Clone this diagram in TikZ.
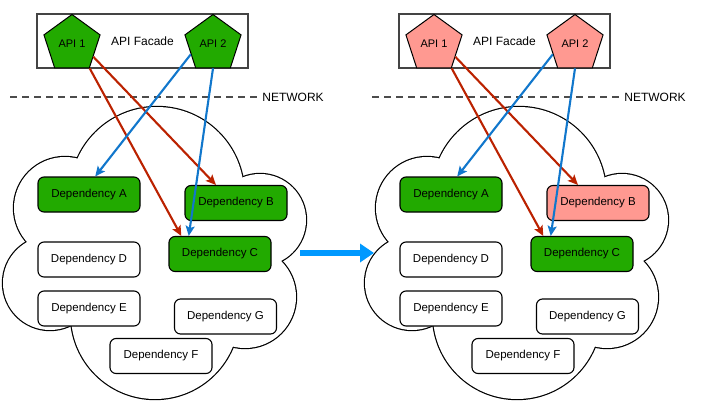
\documentclass[tikz,border=0pt]{standalone}
\usepackage{fontspec}
\setmainfont{Liberation Sans}
\usetikzlibrary{shapes.geometric,arrows.meta}

\definecolor{okgreen}{RGB}{34,170,0}
\definecolor{downpink}{RGB}{255,153,145}
\definecolor{callred}{RGB}{187,34,0}
\definecolor{callblue}{RGB}{17,119,204}
\definecolor{bigblue}{RGB}{0,153,255}
\definecolor{boxgray}{RGB}{68,68,68}

\tikzset{
  api/.style={regular polygon,regular polygon sides=5,minimum size=59pt,inner sep=1pt,
    draw,line width=1pt,font=\fontsize{11}{13}\selectfont},
  facade/.style={draw=boxgray,line width=1.3pt,minimum width=211pt,minimum height=54pt,
    font=\fontsize{12}{14}\selectfont},
  dep/.style={draw,fill=white,rounded corners=6pt,line width=1.1pt,minimum width=102pt,
    minimum height=35pt,font=\fontsize{11.5}{13}\selectfont},
  redcall/.style={draw=callred,line width=2.1pt,-{Stealth[length=10pt,width=9pt,inset=2pt]}},
  bluecall/.style={draw=callblue,line width=2.1pt,-{Stealth[length=10pt,width=9pt,inset=2pt]}},
  netline/.style={draw=black!70,line width=1.2pt,dash pattern=on 7pt off 5pt},
  bigarrow/.style={draw=bigblue,line width=5.5pt,-{Triangle[length=14pt,width=18pt]}}
}

\begin{document}
\begin{tikzpicture}[x=1pt,y=-1pt]
  \useasboundingbox (0,0) rectangle (713,405);

  \foreach \p/\dx/\col in {L/0/okgreen, R/362/downpink} {
  \begin{scope}[xshift=\dx pt]
    \node[facade] (facade\p) at (142.5,41) {API Facade};
    \node[api,fill=\col] (api1\p) at (72,44)  {API 1};
    \node[api,fill=\col] (api2\p) at (213,44) {API 2};

    \coordinate (netstart\p) at (10,97);
    \node[font=\fontsize{12}{14}\selectfont] (net\p) at (293,97) {NETWORK};
    \draw[netline] (netstart\p) -- (net\p.west);

    % cloud = union of circles
    \foreach \cx/\cy/\r in {157/194/87, 260/220/46, 245/297/51, 155/315/84, 50/283/47, 65/208/51}
      \draw[line width=2.4pt] (\cx,\cy) circle[radius=\r pt];
    \foreach \cx/\cy/\r in {157/194/87, 260/220/46, 245/297/51, 155/315/84, 50/283/47, 65/208/51}
      \fill[white] (\cx,\cy) circle[radius=\r pt];

    \node[dep,fill=okgreen] (depA\p) at (89,194.5)  {Dependency A};
    \node[dep,fill=\col]    (depB\p) at (236,203)   {Dependency B};
    \node[dep,fill=okgreen] (depC\p) at (220,254)   {Dependency C};
    \node[dep]              (depD\p) at (89,259.5)  {Dependency D};
    \node[dep]              (depE\p) at (89,308.5)  {Dependency E};
    \node[dep]              (depF\p) at (161,356)   {Dependency F};
    \node[dep]              (depG\p) at (225.5,316.5) {Dependency G};

    \draw[redcall]  (api1\p.-31)      -- (depB\p.138);
    \draw[redcall]  (api1\p.corner 4) -- (depC\p.155);
    \draw[bluecall] (api2\p.205)      -- (depA\p.71);
    \draw[bluecall] (api2\p.south)    -- (depC\p.150);
  \end{scope}
  }

  \coordinate (bigfrom) at (300,253);
  \coordinate (bigto) at (374,253);
  \draw[bigarrow] (bigfrom) -- (bigto);
\end{tikzpicture}
\end{document}
